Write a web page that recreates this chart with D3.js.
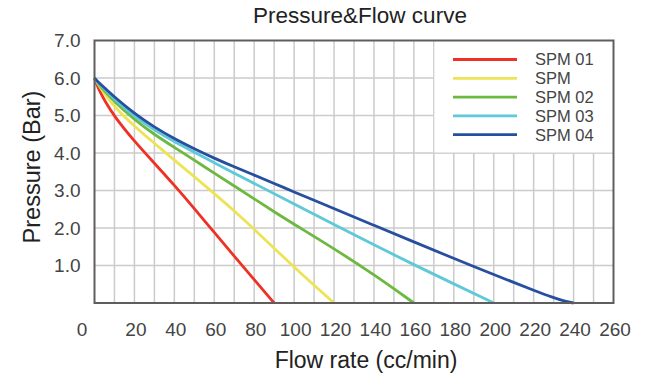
<!DOCTYPE html>
<html>
<head>
<meta charset="utf-8">
<script src="https://cdn.jsdelivr.net/npm/d3@7"></script>
<style>
  html, body { margin: 0; padding: 0; background: #fff; }
  svg { display: block; font-family: "Liberation Sans", Arial, sans-serif; }
</style>
</head>
<body>
<svg id="chart" width="668" height="391"></svg>
<script>
// ---- data ----
const seriesNames = ["SPM 01", "SPM", "SPM 02", "SPM 03", "SPM 04"];
const seriesColors = ["#ee3124", "#ece454", "#6db940", "#5ec9d9", "#274f9f"];

const flowSPM01 = [0, 1, 2.5, 5, 10, 20, 30, 40, 50, 60, 70, 80, 90];
const presSPM01 = [6.0, 5.85, 5.66, 5.40, 4.97, 4.31, 3.73, 3.14, 2.52, 1.88, 1.25, 0.62, 0];

const flowSPM = [0, 1, 2.5, 5, 10, 20, 30, 40, 50, 60, 70, 80, 100, 120];
const presSPM = [6.0, 5.9, 5.78, 5.58, 5.23, 4.71, 4.26, 3.81, 3.37, 2.92, 2.46, 1.97, 0.95, 0];

const flowSPM02 = [0, 1, 2.5, 5, 10, 20, 30, 40, 50, 60, 70, 80, 90, 100, 120, 140, 160];
const presSPM02 = [6.0, 5.92, 5.81, 5.65, 5.37, 4.89, 4.49, 4.15, 3.81, 3.46, 3.12, 2.78, 2.43, 2.10, 1.45, 0.76, 0];

const flowSPM03 = [0, 1, 2.5, 5, 10, 20, 30, 40, 50, 60, 70, 80, 100, 120, 140, 160, 180, 200];
const presSPM03 = [6.0, 5.93, 5.84, 5.70, 5.43, 4.97, 4.61, 4.30, 4.02, 3.74, 3.46, 3.19, 2.64, 2.09, 1.55, 1.02, 0.51, 0];

const flowSPM04 = [0, 1, 2.5, 5, 10, 20, 30, 40, 50, 60, 70, 80, 90, 100, 110, 120, 140, 160, 180, 190, 200, 210, 220, 230, 236, 240];
const presSPM04 = [6.0, 5.94, 5.86, 5.74, 5.49, 5.05, 4.69, 4.38, 4.11, 3.86, 3.63, 3.41, 3.19, 2.96, 2.74, 2.52, 2.07, 1.63, 1.19, 0.97, 0.76, 0.55, 0.34, 0.14, 0.04, 0];

const xTicks = [0, 20, 40, 60, 80, 100, 120, 140, 160, 180, 200, 220, 240, 260];
const yTicks = [1, 2, 3, 4, 5, 6, 7];
const xGrid = d3.range(10, 260, 10);
const yGrid = [1, 2, 3, 4, 5, 6];

const titleText = "Pressure&Flow curve";
const xTitle = "Flow rate (cc/min)";
const yTitle = "Pressure (Bar)";

const flows = [flowSPM01, flowSPM, flowSPM02, flowSPM03, flowSPM04];
const pressures = [presSPM01, presSPM, presSPM02, presSPM03, presSPM04];
const series = seriesNames.map((n, i) => ({
  name: n, color: seriesColors[i],
  values: flows[i].map((f, j) => ({ x: f, y: pressures[i][j] }))
}));

// ---- layout ----
const svg = d3.select("#chart");
const x = d3.scaleLinear().domain([0, 260]).range([94.5, 613.5]);
const y = d3.scaleLinear().domain([0, 7]).range([303, 40.5]);

// grid
const grid = svg.append("g").attr("stroke", "#cbcbcb").attr("stroke-width", 1.5);
grid.selectAll("line.v").data(xGrid).join("line")
  .attr("x1", d => x(d)).attr("x2", d => x(d))
  .attr("y1", y(7)).attr("y2", y(0));
grid.selectAll("line.h").data(yGrid).join("line")
  .attr("x1", x(0)).attr("x2", x(260))
  .attr("y1", d => y(d)).attr("y2", d => y(d));

// curves
const line = d3.line().x(d => x(d.x)).y(d => y(d.y)).curve(d3.curveBasis);
svg.append("g").selectAll("path").data(series).join("path")
  .attr("d", d => line(d.values))
  .attr("fill", "none")
  .attr("stroke", d => d.color)
  .attr("stroke-width", 2.8)
  .attr("stroke-linejoin", "round");

// legend box
const legX0 = x(170), legY1 = y(4);
svg.append("rect")
  .attr("x", legX0).attr("y", y(7))
  .attr("width", x(260) - legX0).attr("height", legY1 - y(7))
  .attr("fill", "#fff").attr("stroke", "#d0d0d0").attr("stroke-width", 1);

const leg = svg.append("g");
series.forEach((s, i) => {
  const ly = 59.5 + i * 18.8;
  leg.append("line")
    .attr("x1", 453).attr("x2", 517).attr("y1", ly).attr("y2", ly)
    .attr("stroke", s.color).attr("stroke-width", 2.8);
  leg.append("text")
    .attr("x", 535).attr("y", ly).attr("dy", "0.36em")
    .attr("font-size", 16.5).attr("fill", "#444")
    .text(s.name);
});

// frame
svg.append("rect")
  .attr("x", x(0)).attr("y", y(7))
  .attr("width", x(260) - x(0)).attr("height", y(0) - y(7))
  .attr("fill", "none").attr("stroke", "#5e5e5e").attr("stroke-width", 2);

// axes
const xAxis = svg.append("g").attr("transform", `translate(0,${y(0)})`)
  .call(d3.axisBottom(x).tickValues(xTicks).tickSize(0).tickPadding(0).tickFormat(d3.format("d")));
xAxis.select(".domain").remove();
xAxis.selectAll("text")
  .attr("y", 33).attr("dy", 0)
  .attr("font-size", 19).attr("fill", "#444")
  .attr("font-family", "Liberation Sans, Arial, sans-serif")
  .attr("dx", d => d === 0 ? -13 : 1);

const yAxis = svg.append("g").attr("transform", `translate(${x(0)},0)`)
  .call(d3.axisLeft(y).tickValues(yTicks).tickSize(0).tickPadding(14).tickFormat(d3.format(".1f")));
yAxis.select(".domain").remove();
yAxis.selectAll("text")
  .attr("font-size", 19).attr("fill", "#444")
  .attr("font-family", "Liberation Sans, Arial, sans-serif");

// titles
svg.append("text")
  .attr("x", 360).attr("y", 23)
  .attr("text-anchor", "middle").attr("font-size", 22.5).attr("fill", "#222")
  .text(titleText);

svg.append("text")
  .attr("x", 366).attr("y", 368)
  .attr("text-anchor", "middle").attr("font-size", 23).attr("fill", "#222")
  .text(xTitle);

svg.append("text")
  .attr("transform", `translate(40,167) rotate(-90)`)
  .attr("text-anchor", "middle").attr("font-size", 23.5).attr("fill", "#222")
  .text(yTitle);
</script>
</body>
</html>
